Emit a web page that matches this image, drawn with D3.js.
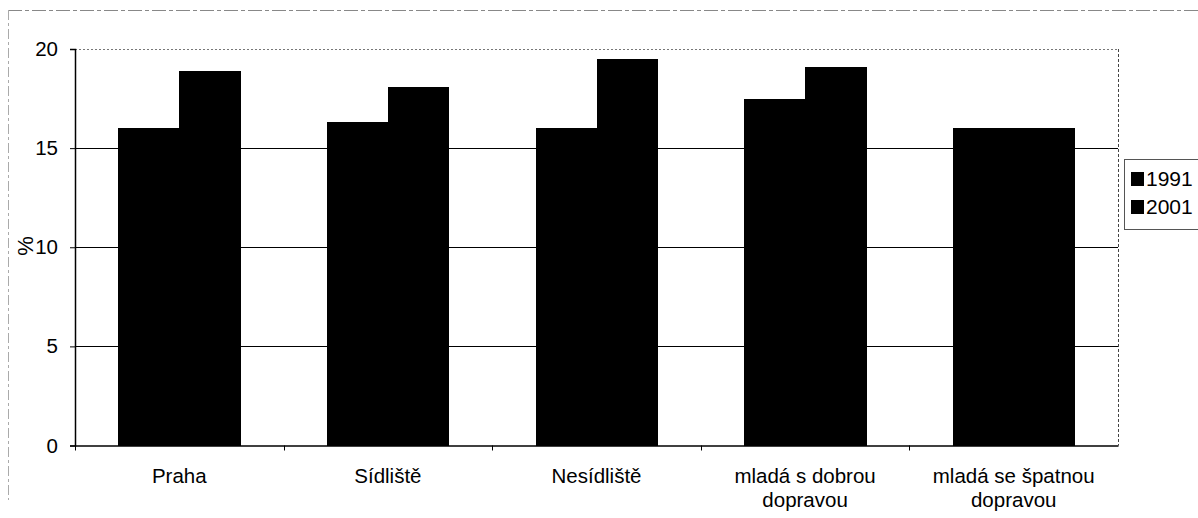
<!DOCTYPE html>
<html>
<head>
<meta charset="utf-8">
<script src="https://cdn.jsdelivr.net/npm/d3@7"></script>
<style>
  html, body { margin: 0; padding: 0; background: #fff; }
  svg { display: block; font-family: "Liberation Sans", Arial, sans-serif; }
</style>
</head>
<body>
<svg id="chart" width="1198" height="518"></svg>
<script>
// Share of population (%) by area type, census years 1991 and 2001
const categories = ["Praha", "Sídliště", "Nesídliště", "mladá s dobrou dopravou", "mladá se špatnou dopravou"];
const categoryLines = [["Praha"], ["Sídliště"], ["Nesídliště"], ["mladá s dobrou", "dopravou"], ["mladá se špatnou", "dopravou"]];
const seriesNames = ["1991", "2001"];
const values1991 = [16.0, 16.3, 16.0, 17.5, 16.0];
const values2001 = [18.9, 18.1, 19.5, 19.1, 16.0];
const yTicks = [0, 5, 10, 15, 20];
const yLabel = "%";

const svg = d3.select("#chart");

const plot = { left: 75, right: 1118, top: 49, bottom: 445.5 };

// Outer chart frame (dashed, top and left edges)
svg.append("line").attr("x1", 8).attr("x2", 1198).attr("y1", 10.5).attr("y2", 10.5)
  .attr("stroke", "#888").attr("stroke-width", 1).attr("stroke-dasharray", "14,3,4,3");
svg.append("line").attr("x1", 8.5).attr("x2", 8.5).attr("y1", 10).attr("y2", 500)
  .attr("stroke", "#aaa").attr("stroke-width", 1).attr("stroke-dasharray", "10,3,3,3");

const x = d3.scaleBand().domain(categories).range([plot.left, plot.right]).paddingInner(0).paddingOuter(0);
const xSub = d3.scaleBand().domain(seriesNames).range([0, x.bandwidth()]).paddingInner(0).paddingOuter(0.71);
const y = d3.scaleLinear().domain([0, 20]).range([plot.bottom, plot.top]);

// Plot-area border (dotted top and right)
svg.append("line").attr("x1", plot.left).attr("x2", plot.right).attr("y1", plot.top + 0.5).attr("y2", plot.top + 0.5)
  .attr("stroke", "#777").attr("stroke-width", 1).attr("stroke-dasharray", "2,2");
svg.append("line").attr("x1", plot.right + 0.5).attr("x2", plot.right + 0.5).attr("y1", plot.top).attr("y2", plot.bottom)
  .attr("stroke", "#444").attr("stroke-width", 1).attr("stroke-dasharray", "3,2");

// Horizontal gridlines
svg.append("g").selectAll("line").data(yTicks.filter(t => t > 0 && t < 20)).join("line")
  .attr("x1", plot.left).attr("x2", plot.right)
  .attr("y1", d => Math.round(y(d)) + 0.5).attr("y2", d => Math.round(y(d)) + 0.5)
  .attr("stroke", "#000").attr("stroke-width", 1);

// Bars
const rows = categories.map((c, i) => ({ cat: c, vals: [
  { key: "1991", v: values1991[i] },
  { key: "2001", v: values2001[i] }
]}));

svg.append("g").attr("shape-rendering", "crispEdges").selectAll("g").data(rows).join("g")
  .attr("transform", d => `translate(${x(d.cat)},0)`)
  .selectAll("rect").data(d => d.vals).join("rect")
  .attr("x", d => xSub(d.key))
  .attr("width", xSub.bandwidth() + 0.5)
  .attr("y", d => y(d.v))
  .attr("height", d => y(0) - y(d.v))
  .attr("fill", "#000");

// Y axis
const yAxis = d3.axisLeft(y).tickValues(yTicks).tickSize(5).tickPadding(12).tickFormat(d3.format("d"));
const gy = svg.append("g").attr("transform", `translate(${plot.left},0)`).call(yAxis);
gy.select(".domain").attr("stroke", "#000").attr("stroke-width", 1.5);
gy.selectAll(".tick line").attr("stroke", "#000");
gy.selectAll(".tick text").attr("font-size", 20.5).attr("fill", "#000")
  .attr("font-family", "'Liberation Sans', Arial, sans-serif");

// X axis
const xAxis = d3.axisBottom(x).tickSize(0).tickFormat(() => "");
const gx = svg.append("g").attr("transform", `translate(0,${plot.bottom})`).call(xAxis);
gx.select(".domain").attr("stroke", "#000").attr("stroke-width", 1.5);

// Tick marks at category boundaries
const bounds = categories.map(c => x(c));
svg.append("g").selectAll("line").data(bounds).join("line")
  .attr("x1", d => Math.round(d) + 0.5).attr("x2", d => Math.round(d) + 0.5)
  .attr("y1", plot.bottom).attr("y2", plot.bottom + 5)
  .attr("stroke", "#000").attr("stroke-width", 1);

// Category labels
const lbl = svg.append("g").selectAll("text").data(categories).join("text")
  .attr("x", d => x(d) + x.bandwidth() / 2)
  .attr("y", 483)
  .attr("text-anchor", "middle")
  .attr("font-size", 20.5)
  .attr("fill", "#000");
lbl.selectAll("tspan").data((d, i) => categoryLines[i]).join("tspan")
  .attr("x", function() { return d3.select(this.parentNode).attr("x"); })
  .attr("dy", (d, i) => i === 0 ? 0 : 24)
  .text(d => d);

// Y axis title
svg.append("text")
  .attr("transform", "translate(33,246) rotate(-90)")
  .attr("text-anchor", "middle")
  .attr("font-size", 22)
  .attr("fill", "#000")
  .text(yLabel);

// Legend
const legend = svg.append("g");
legend.append("rect").attr("x", 1124.5).attr("y", 159.5).attr("width", 100).attr("height", 70)
  .attr("fill", "#fff").attr("stroke", "#555").attr("stroke-width", 1);
const items = legend.selectAll("g").data(seriesNames).join("g")
  .attr("transform", (d, i) => `translate(1131,${172 + i * 28})`);
items.append("rect").attr("x", 0).attr("y", 0).attr("width", 13).attr("height", 14).attr("fill", "#000");
items.append("text").attr("x", 15).attr("y", 14).attr("font-size", 21).attr("fill", "#000").text(d => d);
</script>
</body>
</html>
